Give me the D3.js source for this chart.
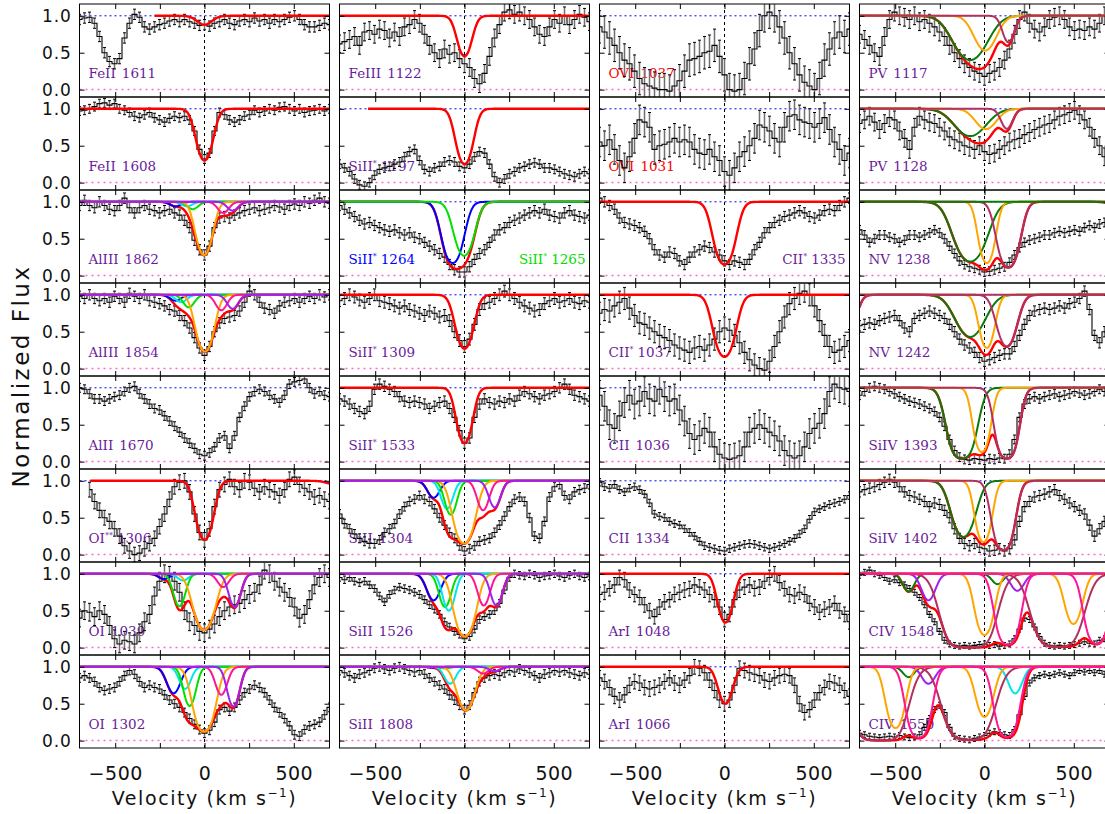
<!DOCTYPE html>
<html>
<head>
<meta charset="utf-8">
<script src="https://cdnjs.cloudflare.com/ajax/libs/d3/7.8.5/d3.min.js"></script>
<style>
  body { margin: 0; background: #fff; }
</style>
</head>
<body>
<div id="vis"></div>
<script>
// velocity bin centres (km/s), shared by every spectrum
var VELOCITY = [-700,-672,-644,-616,-588,-560,-532,-504,-476,-448,-420,-392,-364,-336,-308,-280,-252,-224,-196,-168,
  -140,-112,-84,-56,-28,0,28,56,84,112,140,168,196,224,252,280,308,336,364,392,420,448,476,504,532,560,588,616,644,672,700];

// normalized flux, one value per velocity bin
var FLUX_FEII_1611 = [0.95,0.97,0.98,0.9,0.72,0.5,0.38,0.35,0.42,0.7,0.9,1.02,0.98,0.85,0.82,0.85,0.88,0.9,0.93,0.95,
  0.92,0.95,0.92,0.9,0.87,0.88,0.86,0.9,0.92,0.95,0.9,0.88,0.93,0.95,0.92,0.97,0.93,0.95,0.9,0.95,0.92,0.95,0.98,1.0,0.95,0.88,0.85,0.85,0.87,0.9,0.88];
var FLUX_FEII_1608 = [0.97,0.98,1.0,1.03,1.07,1.08,1.05,1.07,1.0,0.98,0.95,0.9,0.88,0.92,0.95,0.88,0.85,0.82,0.87,0.9,
  0.88,0.9,0.85,0.7,0.45,0.32,0.4,0.7,0.95,0.92,0.85,0.82,0.85,0.9,0.92,0.98,0.95,0.97,1.0,0.98,1.02,1.03,1.0,0.97,1.0,0.95,0.97,0.98,1.0,0.97,1.0];
var FLUX_ALIII_1862 = [0.95,1.02,0.95,0.92,1.0,0.95,0.9,0.88,0.95,1.05,0.92,0.85,0.92,0.95,0.9,0.88,0.85,0.88,0.9,0.85,
  0.82,0.75,0.65,0.48,0.35,0.28,0.4,0.65,0.78,0.8,0.78,0.82,0.85,0.88,0.9,0.92,0.88,0.9,0.92,0.95,0.93,0.9,0.95,0.97,0.95,1.0,0.98,1.02,1.05,1.0,0.98];
var FLUX_ALIII_1854 = [0.98,0.95,1.0,0.95,0.92,0.95,0.9,0.98,0.95,0.9,1.02,0.98,0.95,1.0,0.92,0.9,0.88,0.85,0.8,0.78,
  0.72,0.65,0.55,0.42,0.28,0.18,0.3,0.5,0.62,0.68,0.7,0.72,0.78,0.9,1.05,1.0,0.9,0.82,0.8,0.75,0.85,0.9,0.92,0.95,0.9,0.95,0.98,0.95,1.0,0.97,1.0];
var FLUX_ALII_1670 = [1.0,0.98,0.92,0.85,0.85,0.82,0.85,0.88,0.9,0.95,1.0,1.02,0.92,0.85,0.78,0.72,0.7,0.62,0.55,0.48,
  0.4,0.32,0.25,0.18,0.1,0.08,0.12,0.2,0.32,0.35,0.18,0.35,0.6,0.75,0.88,0.95,0.98,0.95,0.9,0.85,0.8,0.9,1.05,1.08,1.1,1.12,1.0,0.92,0.95,0.9,0.88];
var FLUX_OI2_1306 = [null,null,0.88,0.72,0.6,0.5,0.45,0.35,0.25,0.12,0.05,0.0,0.02,0.08,0.15,0.22,0.38,0.55,0.75,0.92,
  0.98,1.0,0.85,0.55,0.3,0.2,0.35,0.65,0.88,0.95,1.02,0.92,0.88,1.0,0.98,0.9,0.85,0.92,0.88,0.85,0.8,0.88,1.02,1.05,0.95,0.9,0.85,0.78,0.8,0.75,0.72];
var FLUX_OI_1039 = [0.4,0.5,0.48,0.42,0.5,0.45,0.3,0.12,0.05,0.1,0.08,0.05,0.2,0.35,0.45,0.7,0.9,1.0,0.98,0.9,
  0.75,0.5,0.35,0.3,0.22,0.2,0.25,0.32,0.42,0.5,0.55,0.58,0.6,0.65,0.72,0.75,0.85,1.05,1.0,0.9,0.82,0.75,0.68,0.55,0.4,0.45,0.65,0.85,0.95,1.0,0.95];
var FLUX_OI_1302 = [0.85,0.88,0.85,0.8,0.72,0.68,0.7,0.72,0.8,0.88,0.95,0.9,0.8,0.72,0.75,0.72,0.7,0.62,0.55,0.5,
  0.45,0.38,0.3,0.22,0.15,0.1,0.14,0.25,0.42,0.45,0.4,0.45,0.55,0.65,0.7,0.75,0.72,0.65,0.55,0.45,0.38,0.3,0.2,0.08,0.06,0.15,0.2,0.22,0.25,0.35,0.45];
var FLUX_FEIII_1122 = [0.62,0.65,0.68,0.72,0.6,0.78,0.8,0.75,0.82,0.8,0.7,0.78,0.72,0.85,0.88,0.95,0.9,0.75,0.6,0.5,
  0.42,0.55,0.48,0.5,0.42,0.35,0.3,0.15,0.08,0.22,0.45,0.7,0.88,1.05,1.08,1.02,1.05,1.0,0.95,0.85,0.75,0.72,0.85,0.95,0.9,1.0,0.88,0.95,1.02,0.98,0.92];
var FLUX_SIII2_1197 = [0.25,0.2,0.15,0.05,-0.03,-0.05,0.0,0.1,0.18,0.2,0.22,0.25,0.28,0.35,0.42,0.45,0.3,0.18,0.15,0.2,
  0.22,0.28,0.3,0.28,0.22,0.2,0.25,0.35,0.42,0.4,0.25,0.08,0.0,0.05,0.12,0.15,0.2,0.22,0.25,0.27,0.25,0.2,0.2,0.18,0.15,0.12,0.1,0.08,0.12,0.15,0.12];
var FLUX_SIII2_1264 = [0.95,0.9,0.85,0.8,0.75,0.7,0.72,0.68,0.65,0.62,0.6,0.62,0.58,0.55,0.58,0.52,0.5,0.45,0.4,0.35,
  0.3,0.25,0.15,0.08,0.05,0.05,0.12,0.22,0.3,0.35,0.45,0.55,0.62,0.65,0.72,0.75,0.78,0.82,0.85,0.88,0.85,0.9,0.82,0.8,0.78,0.85,0.88,0.82,0.8,0.78,0.82];
var FLUX_SIII2_1309 = [0.92,0.95,1.0,0.97,0.93,0.9,0.95,1.0,0.92,0.9,0.88,0.85,0.82,0.85,0.8,0.78,0.75,0.72,0.78,0.75,
  0.7,0.72,0.65,0.5,0.38,0.3,0.4,0.6,0.8,0.88,0.9,0.95,1.0,1.05,1.0,0.95,0.9,0.85,0.82,0.78,0.8,0.88,0.92,0.95,0.9,0.92,0.95,0.9,0.88,0.92,0.9];
var FLUX_SIII2_1533 = [0.85,0.82,0.78,0.72,0.68,0.65,0.75,0.98,1.05,1.02,0.98,0.95,0.88,0.82,0.8,0.82,0.8,0.78,0.72,0.75,
  0.8,0.82,0.72,0.6,0.42,0.25,0.32,0.6,0.78,0.85,0.8,0.78,0.82,0.8,0.85,0.82,0.9,0.95,0.92,0.88,0.85,0.9,0.92,0.95,1.0,1.05,0.98,0.9,0.88,0.85,0.82];
var FLUX_SIII_1304 = [0.55,0.42,0.35,0.28,0.22,0.18,0.15,0.15,0.2,0.3,0.35,0.42,0.55,0.65,0.72,0.75,0.8,0.75,0.72,0.62,
  0.5,0.4,0.3,0.22,0.12,0.05,0.08,0.12,0.18,0.2,0.22,0.3,0.4,0.52,0.65,0.75,0.78,0.72,0.5,0.25,0.22,0.45,0.78,0.92,0.95,0.8,0.75,0.85,0.88,0.9,0.95];
var FLUX_SIII_1526 = [0.95,0.92,0.95,0.9,0.88,0.9,0.85,0.8,0.7,0.62,0.72,0.78,0.82,0.8,0.78,0.75,0.72,0.65,0.58,0.52,
  0.45,0.35,0.28,0.22,0.18,0.12,0.15,0.25,0.38,0.42,0.45,0.5,0.6,0.78,0.95,1.0,0.98,0.97,1.0,0.98,0.95,0.97,0.98,1.0,0.97,0.95,0.98,1.0,0.97,0.95,0.97];
var FLUX_SIII_1808 = [0.95,0.92,0.88,0.85,0.9,0.92,0.95,0.98,1.0,0.97,0.95,0.98,1.0,0.97,0.95,0.93,0.95,0.9,0.85,0.8,
  0.75,0.7,0.62,0.55,0.48,0.42,0.48,0.65,0.8,0.85,0.88,0.9,0.88,0.92,0.95,0.93,0.97,0.95,0.92,0.88,0.85,0.9,0.92,0.95,0.93,0.95,0.92,0.9,0.88,0.92,0.9];
var FLUX_OVI_1037 = [0.85,0.78,0.7,0.6,0.5,0.4,0.35,0.25,0.15,0.08,0.05,0.02,0.0,0.0,-0.02,0.05,0.12,0.25,0.4,0.42,
  0.45,0.5,0.52,0.6,0.45,0.2,0.0,-0.02,0.0,0.15,0.35,0.55,0.8,1.0,1.05,1.0,0.85,0.7,0.5,0.35,0.2,0.1,0.05,0.0,0.15,0.4,0.55,0.7,0.78,0.72,0.82];
var FLUX_OVI_1031 = [0.55,0.5,0.58,0.45,0.3,0.2,0.35,0.6,0.85,0.82,0.75,0.45,0.5,0.52,0.55,0.6,0.55,0.58,0.55,0.45,
  0.4,0.38,0.45,0.35,0.3,0.15,0.1,0.2,0.35,0.42,0.5,0.6,0.78,0.75,0.7,0.6,0.55,0.75,0.9,0.92,0.85,0.82,0.8,0.75,0.8,0.88,0.72,0.55,0.45,0.3,0.4];
var FLUX_CII2_1335 = [1.05,1.0,0.95,0.9,0.78,0.72,0.7,0.68,0.65,0.6,0.5,0.35,0.28,0.25,0.32,0.3,0.2,0.15,0.25,0.32,
  0.35,0.4,0.38,0.32,0.28,0.2,0.15,0.2,0.18,0.15,0.22,0.35,0.45,0.58,0.65,0.72,0.75,0.8,0.82,0.85,0.88,0.85,0.8,0.78,0.82,0.88,0.9,0.88,0.95,1.0,1.05];
var FLUX_CII2_1037 = [0.75,0.8,0.78,0.85,0.9,0.95,0.82,0.72,0.62,0.6,0.55,0.5,0.45,0.42,0.38,0.32,0.28,0.25,0.22,0.28,
  0.3,0.25,0.32,0.4,0.5,0.55,0.52,0.45,0.35,0.22,0.12,0.05,0.0,-0.02,0.1,0.3,0.5,0.7,0.88,0.95,1.02,1.05,1.0,0.85,0.65,0.45,0.3,0.22,0.25,0.3,0.38];
var FLUX_CII_1036 = [0.9,0.75,0.5,0.45,0.62,0.8,0.9,0.78,0.82,0.95,0.85,0.82,0.98,0.88,0.82,0.85,0.7,0.55,0.38,0.3,
  0.35,0.45,0.4,0.2,0.1,0.05,0.03,0.05,0.08,0.2,0.4,0.45,0.5,0.45,0.4,0.35,0.28,0.15,0.08,0.05,0.08,0.2,0.38,0.45,0.52,0.65,0.95,1.05,1.0,0.98,0.95];
var FLUX_CII_1334 = [0.98,0.92,0.9,0.95,0.88,0.85,0.9,0.92,0.88,0.82,0.7,0.55,0.52,0.5,0.45,0.42,0.4,0.35,0.3,0.25,
  0.18,0.12,0.1,0.08,0.06,0.05,0.08,0.1,0.12,0.14,0.15,0.14,0.12,0.1,0.08,0.1,0.12,0.15,0.18,0.22,0.28,0.35,0.48,0.58,0.62,0.65,0.68,0.7,0.72,0.75,0.8];
var FLUX_ARI_1048 = [0.72,0.75,0.8,0.85,0.95,0.92,0.78,0.72,0.68,0.58,0.5,0.42,0.55,0.62,0.65,0.72,0.75,0.78,0.8,0.85,
  0.82,0.78,0.72,0.65,0.55,0.38,0.45,0.65,0.78,0.82,0.85,0.8,0.82,0.9,0.95,1.0,0.88,0.8,0.72,0.7,0.75,0.72,0.6,0.55,0.48,0.52,0.55,0.6,0.5,0.45,0.35];
var FLUX_ARI_1066 = [0.85,0.8,0.72,0.6,0.55,0.62,0.75,0.8,0.78,0.72,0.7,0.72,0.75,0.8,0.85,0.78,0.75,0.82,0.88,1.0,
  0.98,0.92,0.82,0.68,0.55,0.5,0.55,0.75,0.98,0.95,0.92,0.9,0.88,0.82,0.8,0.85,0.88,0.9,0.88,0.75,0.5,0.38,0.42,0.55,0.65,0.72,0.8,0.78,0.75,0.68,0.6];
var FLUX_PV_1117 = [0.75,0.68,0.6,0.5,0.45,0.72,0.95,1.05,1.0,0.98,0.95,1.0,0.92,0.95,0.9,0.85,0.78,0.72,0.6,0.5,
  0.42,0.35,0.3,0.25,0.22,0.18,0.22,0.25,0.3,0.4,0.55,0.75,0.95,1.05,0.9,0.82,0.78,0.85,0.95,0.98,1.0,0.95,0.85,0.8,0.82,0.8,0.85,0.82,0.9,1.0,0.95];
var FLUX_PV_1128 = [0.8,0.85,0.9,0.82,0.72,0.8,0.88,0.85,0.7,0.6,0.45,0.75,0.9,0.85,0.82,0.8,0.75,0.7,0.62,0.58,
  0.55,0.5,0.48,0.45,0.5,0.42,0.38,0.4,0.45,0.5,0.55,0.58,0.6,0.65,0.68,0.72,0.75,0.78,0.8,0.85,0.9,0.92,0.95,0.98,0.92,0.85,0.75,0.6,0.5,0.35,0.3];
var FLUX_NV_1238 = [0.62,0.55,0.45,0.5,0.55,0.55,0.52,0.5,0.45,0.48,0.55,0.55,0.52,0.55,0.58,0.62,0.58,0.5,0.4,0.3,
  0.2,0.15,0.12,0.1,0.08,0.05,0.06,0.08,0.1,0.12,0.18,0.28,0.38,0.45,0.48,0.5,0.52,0.55,0.55,0.58,0.6,0.58,0.6,0.62,0.6,0.65,0.68,0.65,0.7,0.72,0.75];
var FLUX_NV_1242 = [0.58,0.6,0.62,0.6,0.65,0.68,0.7,0.72,0.65,0.55,0.5,0.68,0.72,0.75,0.78,0.75,0.72,0.68,0.6,0.5,
  0.4,0.32,0.28,0.22,0.15,0.1,0.12,0.15,0.18,0.2,0.2,0.3,0.45,0.6,0.72,0.78,0.8,0.82,0.8,0.82,0.85,0.82,0.88,0.9,0.95,1.05,0.8,0.45,0.35,0.5,0.45];
var FLUX_SIIV_1393 = [0.9,0.95,1.0,1.02,1.0,0.98,0.95,0.92,0.88,0.85,0.82,0.8,0.78,0.75,0.72,0.68,0.6,0.48,0.3,0.15,
  0.06,0.03,0.02,0.04,0.03,0.02,0.04,0.03,0.05,0.04,0.1,0.3,0.6,0.78,0.85,0.88,0.85,0.88,0.9,0.92,0.88,0.9,0.92,0.95,0.93,0.9,0.92,0.95,0.98,0.95,0.97];
var FLUX_SIIV_1402 = [0.85,0.88,0.9,0.92,0.95,0.98,1.02,0.98,0.92,0.85,0.8,0.78,0.75,0.72,0.65,0.7,0.68,0.6,0.5,0.35,
  0.22,0.15,0.12,0.15,0.1,0.08,0.05,0.06,0.08,0.05,0.08,0.2,0.45,0.65,0.72,0.78,0.8,0.82,0.85,0.88,0.8,0.75,0.7,0.65,0.6,0.55,0.4,0.25,0.35,0.45,0.4];
var FLUX_CIV_1548 = [0.98,1.02,1.05,1.0,0.98,0.95,0.9,0.92,0.88,0.85,0.8,0.75,0.68,0.58,0.45,0.35,0.22,0.1,0.05,0.03,
  0.02,0.03,0.02,0.03,0.04,0.05,0.03,0.04,0.02,0.03,0.05,0.12,0.25,0.4,0.38,0.28,0.15,0.06,0.03,0.02,0.03,0.02,0.03,0.04,0.06,0.08,0.06,0.05,0.1,0.12,0.15];
var FLUX_CIV_1550 = [0.1,0.08,0.06,0.05,0.04,0.05,0.06,0.05,0.07,0.05,0.04,0.05,0.08,0.18,0.3,0.42,0.48,0.38,0.18,0.06,
  0.03,0.02,0.01,0.03,0.05,0.07,0.1,0.12,0.11,0.08,0.07,0.15,0.35,0.6,0.78,0.85,0.88,0.9,0.88,0.9,0.92,0.9,0.88,0.92,0.95,0.93,0.95,0.92,0.95,0.9,0.92];

// fitted absorption components: [component, centre (km/s), minimum flux, width (km/s)]
var FIT_FEII_1611 = [[null, 0, 0.88, 40]];
var FIT_FEII_1608 = [[null, 0, 0.3, 38]];
var FIT_ALIII_1862 = [["c1",-162,0.94,30],["c2",-98,0.94,30],["c3",-66,0.9,30],["c4",-2,0.28,38],["c5",105,0.85,30],["c6",158,0.88,30]];
var FIT_ALIII_1854 = [["c1",-162,0.92,30],["c2",-130,0.9,30],["c3",-88,0.83,30],["c4",2,0.23,40],["c5",94,0.79,30],["c6",158,0.81,30]];
var FIT_OI2_1306 = [[null, 0, 0.2, 38],[null, 720, 0.96, 40]];
var FIT_OI_1039 = [["c1",-226,0.93,30],["c2",-120,0.91,30],["c3",-141,0.56,30],["c4",-2,0.24,48],["c5",105,0.82,30],["c6",169,0.55,30]];
var FIT_OI_1302 = [["c1",-173,0.64,35],["c2",-109,0.7,30],["c3",-83,0.47,30],["c4",-2,0.12,45],["c5",94,0.62,30],["c6",162,0.46,30]];
var FIT_FEIII_1122 = [[null, 0, 0.45, 35]];
var FIT_SIII2_1197 = [[null, 0, 0.25, 38]];
var FIT_SIII2_1264 = [["c1",-66,0.17,45],["c3",-2,0.27,45]];
var FIT_SIII2_1309 = [[null, 0, 0.27, 40]];
var FIT_SIII2_1533 = [[null, 0, 0.25, 35]];
var FIT_SIII_1304 = [["c1",-173,0.77,32],["c2",-98,0.62,30],["c3",-77,0.54,30],["c4",-2,0.15,45],["c5",104,0.6,30],["c6",169,0.64,30]];
var FIT_SIII_1526 = [["c1",-173,0.64,35],["c3",-109,0.55,30],["c2",-88,0.5,30],["c4",2,0.15,45],["c5",108,0.57,30],["c6",179,0.57,30]];
var FIT_SIII_1808 = [["c1",-173,0.99,30],["c3",-109,0.98,30],["c2",-81,0.77,30],["c4",8,0.41,42],["c5",104,0.91,30],["c6",169,0.94,30]];
var FIT_CII2_1335 = [[null, 0, 0.15, 45]];
var FIT_CII2_1037 = [[null, 0, 0.16, 45]];
var FIT_ARI_1048 = [[null, 5, 0.34, 35]];
var FIT_ARI_1066 = [[null, 5, 0.5, 35]];
var FIT_PV_1117 = [["h1",-80,0.4,80],["h2",4,0.53,55],["h3",134,0.64,30]];
var FIT_PV_1128 = [["h1",-80,0.63,80],["h2",8,0.725,55],["h3",125,0.73,30]];
var FIT_NV_1238 = [["h1",-80,0.19,70],["h2",13,0.17,35],["h3",134,0.11,45],["h1",883,0.43,70]];
var FIT_NV_1242 = [["h1",-80,0.43,70],["h2",13,0.28,35],["h3",125,0.3,45],["h3",-800,0.11,45]];
var FIT_SIIV_1393 = [["h1",-127,0.04,52],["h2",-15,0.13,35],["h3",125,0.04,42]];
var FIT_SIIV_1402 = [["h1",-118,0.24,52],["h2",-6,0.17,35],["h3",106,0.06,42]];
var FIT_CIV_1548 = [["h1",-425,0.76,30],["h1",73,0.86,30],["c6",-314,0.64,35],["c6",184,0.77,35],["h3",-90,0.002,80],
  ["h3",408,0.01,80],["c4",0,0.17,40],["c4",498,0.32,40],["c5",130,0.04,45],["c5",628,0.05,45]];
var FIT_CIV_1550 = [["c2",172,0.64,35],["h1",-425,0.86,30],["c6",-314,0.77,35],["h3",-588,0.002,80],["h3",-90,0.01,80],
  ["c4",-498,0.17,40],["c4",0,0.32,40],["c5",-368,0.04,45],["c5",125,0.05,45]];

// panel order, column by column
var COLUMNS = [
  ["FeII 1611", "FeII 1608", "AlIII 1862", "AlIII 1854", "AlII 1670", "OI** 1306", "OI 1039", "OI 1302"],
  ["FeIII 1122", "SiII* 1197", "SiII* 1264", "SiII* 1309", "SiII* 1533", "SiII 1304", "SiII 1526", "SiII 1808"],
  ["OVI 1037", "OVI 1031", "CII* 1335", "CII* 1037", "CII 1036", "CII 1334", "ArI 1048", "ArI 1066"],
  ["PV 1117", "PV 1128", "NV 1238", "NV 1242", "SiIV 1393", "SiIV 1402", "CIV 1548", "CIV 1550"]
];

// typical 1-sigma error per spectrum
var ERRORS = {
  "FeII 1611": 0.07, "FeII 1608": 0.06, "AlIII 1862": 0.07, "AlIII 1854": 0.07, "AlII 1670": 0.06, "OI** 1306": 0.1,
  "OI 1039": 0.12, "OI 1302": 0.06, "FeIII 1122": 0.12, "SiII* 1197": 0.06, "SiII* 1264": 0.07, "SiII* 1309": 0.08,
  "SiII* 1533": 0.07, "SiII 1304": 0.06, "SiII 1526": 0.05, "SiII 1808": 0.06, "OVI 1037": 0.22, "OVI 1031": 0.2,
  "CII* 1335": 0.07, "CII* 1037": 0.15, "CII 1036": 0.2, "CII 1334": 0.05, "ArI 1048": 0.1, "ArI 1066": 0.1,
  "PV 1117": 0.12, "PV 1128": 0.12, "NV 1238": 0.06, "NV 1242": 0.07, "SiIV 1393": 0.06, "SiIV 1402": 0.07,
  "CIV 1548": 0.04, "CIV 1550": 0.04
};

// build the lookup table from the arrays above
var SPECTRA = {
  "FeII 1611": [FLUX_FEII_1611, FIT_FEII_1611, [-280, 700]],
  "FeII 1608": [FLUX_FEII_1608, FIT_FEII_1608],
  "AlIII 1862": [FLUX_ALIII_1862, FIT_ALIII_1862],
  "AlIII 1854": [FLUX_ALIII_1854, FIT_ALIII_1854],
  "AlII 1670": [FLUX_ALII_1670, null],
  "OI** 1306": [FLUX_OI2_1306, FIT_OI2_1306, [-640, 700]],
  "OI 1039": [FLUX_OI_1039, FIT_OI_1039],
  "OI 1302": [FLUX_OI_1302, FIT_OI_1302],
  "FeIII 1122": [FLUX_FEIII_1122, FIT_FEIII_1122],
  "SiII* 1197": [FLUX_SIII2_1197, FIT_SIII2_1197, [-540, 700]],
  "SiII* 1264": [FLUX_SIII2_1264, FIT_SIII2_1264],
  "SiII* 1309": [FLUX_SIII2_1309, FIT_SIII2_1309],
  "SiII* 1533": [FLUX_SIII2_1533, FIT_SIII2_1533],
  "SiII 1304": [FLUX_SIII_1304, FIT_SIII_1304],
  "SiII 1526": [FLUX_SIII_1526, FIT_SIII_1526],
  "SiII 1808": [FLUX_SIII_1808, FIT_SIII_1808],
  "OVI 1037": [FLUX_OVI_1037, null],
  "OVI 1031": [FLUX_OVI_1031, null],
  "CII* 1335": [FLUX_CII2_1335, FIT_CII2_1335],
  "CII* 1037": [FLUX_CII2_1037, FIT_CII2_1037],
  "CII 1036": [FLUX_CII_1036, null],
  "CII 1334": [FLUX_CII_1334, null],
  "ArI 1048": [FLUX_ARI_1048, FIT_ARI_1048],
  "ArI 1066": [FLUX_ARI_1066, FIT_ARI_1066],
  "PV 1117": [FLUX_PV_1117, FIT_PV_1117],
  "PV 1128": [FLUX_PV_1128, FIT_PV_1128],
  "NV 1238": [FLUX_NV_1238, FIT_NV_1238],
  "NV 1242": [FLUX_NV_1242, FIT_NV_1242],
  "SiIV 1393": [FLUX_SIIV_1393, FIT_SIIV_1393],
  "SiIV 1402": [FLUX_SIIV_1402, FIT_SIIV_1402],
  "CIV 1548": [FLUX_CIV_1548, FIT_CIV_1548],
  "CIV 1550": [FLUX_CIV_1550, FIT_CIV_1550]
};

// styling
var COMPONENT_COLORS = {
  c1: "#0000ff", c2: "#00e5ee", c3: "#00e000", c4: "#ffa500", c5: "#ff1493", c6: "#a020f0",
  h1: "#0a7a0a", h2: "#ffa500", h3: "#b03060"
};
var LABEL_COLOR = "#6a1b9a";
var LABEL_COLORS = { "OVI 1037": "#ff0000", "OVI 1031": "#ff0000", "SiII* 1264": "#0000ff" };
var RIGHT_LABELS = { "CII* 1335": true };

var WIDTH = 1105, HEIGHT = 814;
var COL_LEFT = [79.5, 339.5, 599.5, 859.5];
var PANEL_W = 250, PANEL_H = 93, TOP = 4;

var svg = d3.select("#vis").append("svg")
  .attr("width", WIDTH)
  .attr("height", HEIGHT);

svg.append("rect").attr("width", WIDTH).attr("height", HEIGHT).attr("fill", "#fff");

var x = d3.scaleLinear().domain([-700, 700]).range([0, PANEL_W]);
var y = d3.scaleLinear().domain([-0.1, 1.16]).range([PANEL_H, 0]);
var modelV = d3.range(-700, 700.5, 4);

// optical depth of one gaussian component
function tau(c, v) {
  return -Math.log(c[2]) * Math.exp(-(v - c[1]) * (v - c[1]) / (2 * c[3] * c[3]));
}

function model(comps, v) {
  return Math.exp(-d3.sum(comps, function(c) { return tau(c, v); }));
}

function addLabel(g, name, color, right) {
  var parts = name.split(" ");
  var ion = parts[0].replace(/\*/g, "");
  var stars = parts[0].replace(/[^*]/g, "");
  var t = g.append("text")
    .attr("x", right ? PANEL_W - 4 : 9)
    .attr("y", y(0.16))
    .attr("text-anchor", right ? "end" : "start")
    .attr("font-family", "DejaVu Serif, serif")
    .attr("font-size", 13.5)
    .attr("fill", color);
  t.append("tspan").text(ion);
  if (stars) {
    t.append("tspan").attr("dy", -5).attr("font-size", 8).text(stars);
    t.append("tspan").attr("dy", 5).attr("dx", 4).text(parts[1]);
  } else {
    t.append("tspan").attr("dx", 6).text(parts[1]);
  }
}

var stepLine = d3.line()
  .defined(function(d) { return d.f != null; })
  .x(function(d) { return x(d.v); })
  .y(function(d) { return y(d.f); })
  .curve(d3.curveStep);

var fitLine = d3.line()
  .x(function(d) { return x(d.v); })
  .y(function(d) { return y(d.f); });

COLUMNS.forEach(function(names, col) {
  names.forEach(function(name, row) {
    var spec = SPECTRA[name];
    var err = ERRORS[name];
    var g = svg.append("g")
      .attr("transform", "translate(" + COL_LEFT[col] + "," + (TOP + row * PANEL_H) + ")");

    var clipId = "clip-" + col + "-" + row;
    g.append("clipPath").attr("id", clipId)
      .append("rect").attr("width", PANEL_W).attr("height", PANEL_H);
    var inner = g.append("g").attr("clip-path", "url(#" + clipId + ")");

    // labels sit behind the data
    addLabel(inner, name, LABEL_COLORS[name] || LABEL_COLOR, RIGHT_LABELS[name]);
    if (name === "SiII* 1264") addLabel(inner, "SiII* 1265", "#00dd00", true);

    // reference lines
    inner.append("line").attr("x1", 0).attr("x2", PANEL_W).attr("y1", y(1)).attr("y2", y(1))
      .attr("stroke", "#0000ff").attr("stroke-width", 1).attr("stroke-dasharray", "2,3");
    inner.append("line").attr("x1", 0).attr("x2", PANEL_W).attr("y1", y(0)).attr("y2", y(0))
      .attr("stroke", "#ff69c8").attr("stroke-width", 1.5).attr("stroke-dasharray", "2,4");
    inner.append("line").attr("x1", x(0)).attr("x2", x(0)).attr("y1", 0).attr("y2", PANEL_H)
      .attr("stroke", "#000").attr("stroke-width", 1).attr("stroke-dasharray", "3,3");

    var pts = VELOCITY.map(function(v, i) { return { v: v, f: spec[0][i] }; });
    var good = pts.filter(function(d) { return d.f != null; });

    // error bars
    inner.selectAll(".err").data(good).enter().append("line")
      .attr("x1", function(d) { return x(d.v); })
      .attr("x2", function(d) { return x(d.v); })
      .attr("y1", function(d) { return y(d.f - err); })
      .attr("y2", function(d) { return y(d.f + err); })
      .attr("stroke", "#707070").attr("stroke-width", 1.5);
    [-1, 1].forEach(function(sgn) {
      inner.selectAll(".cap" + sgn).data(good).enter().append("line")
        .attr("x1", function(d) { return x(d.v) - 1.5; })
        .attr("x2", function(d) { return x(d.v) + 1.5; })
        .attr("y1", function(d) { return y(d.f + sgn * err); })
        .attr("y2", function(d) { return y(d.f + sgn * err); })
        .attr("stroke", "#000").attr("stroke-width", 1);
    });

    inner.append("path").datum(pts)
      .attr("d", stepLine)
      .attr("fill", "none").attr("stroke", "#000").attr("stroke-width", 1.1);

    // fits: total in red, then each component in its own colour
    var fit = spec[1];
    if (fit) {
      var range = spec[2] || [-700, 700];
      var totalPts = modelV.filter(function(v) { return v >= range[0] && v <= range[1]; })
        .map(function(v) { return { v: v, f: model(fit, v) }; });
      inner.append("path").datum(totalPts)
        .attr("d", fitLine)
        .attr("fill", "none").attr("stroke", "#ff0000").attr("stroke-width", 2.4);
      fit.forEach(function(c) {
        if (!c[0]) return;
        var cp = modelV.map(function(v) { return { v: v, f: Math.exp(-tau(c, v)) }; });
        inner.append("path").datum(cp)
          .attr("d", fitLine)
          .attr("fill", "none").attr("stroke", COMPONENT_COLORS[c[0]]).attr("stroke-width", 2);
      });
    }

    // axes with inward ticks
    var xt = [-500, -250, 0, 250, 500];
    var bottom = g.append("g").attr("transform", "translate(0," + PANEL_H + ")")
      .call(d3.axisBottom(x).tickValues(xt).tickSizeInner(-5).tickSizeOuter(0).tickPadding(19)
        .tickFormat(function(d) { return (row === 7 && d % 500 === 0) ? d3.format("d")(d) : ""; }));
    g.append("g")
      .call(d3.axisTop(x).tickValues(xt).tickSizeInner(-5).tickSizeOuter(0).tickFormat(""));
    var left = g.append("g")
      .call(d3.axisLeft(y).tickValues([0, 0.5, 1]).tickSizeInner(-5).tickSizeOuter(0).tickPadding(8)
        .tickFormat(col === 0 ? d3.format(".1f") : function() { return ""; }));
    g.append("g").attr("transform", "translate(" + PANEL_W + ",0)")
      .call(d3.axisRight(y).tickValues([0, 0.5, 1]).tickSizeInner(-5).tickSizeOuter(0).tickFormat(""));

    g.selectAll(".domain").remove();
    g.selectAll(".tick line").attr("stroke", "#000");
    bottom.selectAll("text")
      .attr("font-family", "DejaVu Sans, sans-serif")
      .attr("font-size", 19)
      .attr("letter-spacing", 0.5)
      .attr("fill", "#111");
    left.selectAll("text")
      .attr("font-family", "DejaVu Sans, sans-serif")
      .attr("font-size", 17)
      .attr("letter-spacing", 0.8)
      .attr("fill", "#111");

    g.append("rect")
      .attr("width", PANEL_W).attr("height", PANEL_H)
      .attr("fill", "none").attr("stroke", "#000").attr("stroke-width", 1);
  });

  // x axis title under each column
  var xt = svg.append("text")
    .attr("x", COL_LEFT[col] + PANEL_W / 2)
    .attr("y", 805)
    .attr("text-anchor", "middle")
    .attr("font-family", "DejaVu Sans, sans-serif")
    .attr("font-size", 19)
    .attr("letter-spacing", 1.6)
    .attr("fill", "#111");
  xt.append("tspan").text("Velocity (km s");
  xt.append("tspan").attr("dy", -8).attr("font-size", 12).text("\u22121");
  xt.append("tspan").attr("dy", 8).text(")");
});

svg.append("text")
  .attr("transform", "translate(29," + (TOP + 4 * PANEL_H) + ") rotate(-90)")
  .attr("text-anchor", "middle")
  .attr("font-family", "DejaVu Sans, sans-serif")
  .attr("font-size", 23)
  .attr("letter-spacing", 2.5)
  .attr("fill", "#111")
  .text("Normalized Flux");
</script>
</body>
</html>
